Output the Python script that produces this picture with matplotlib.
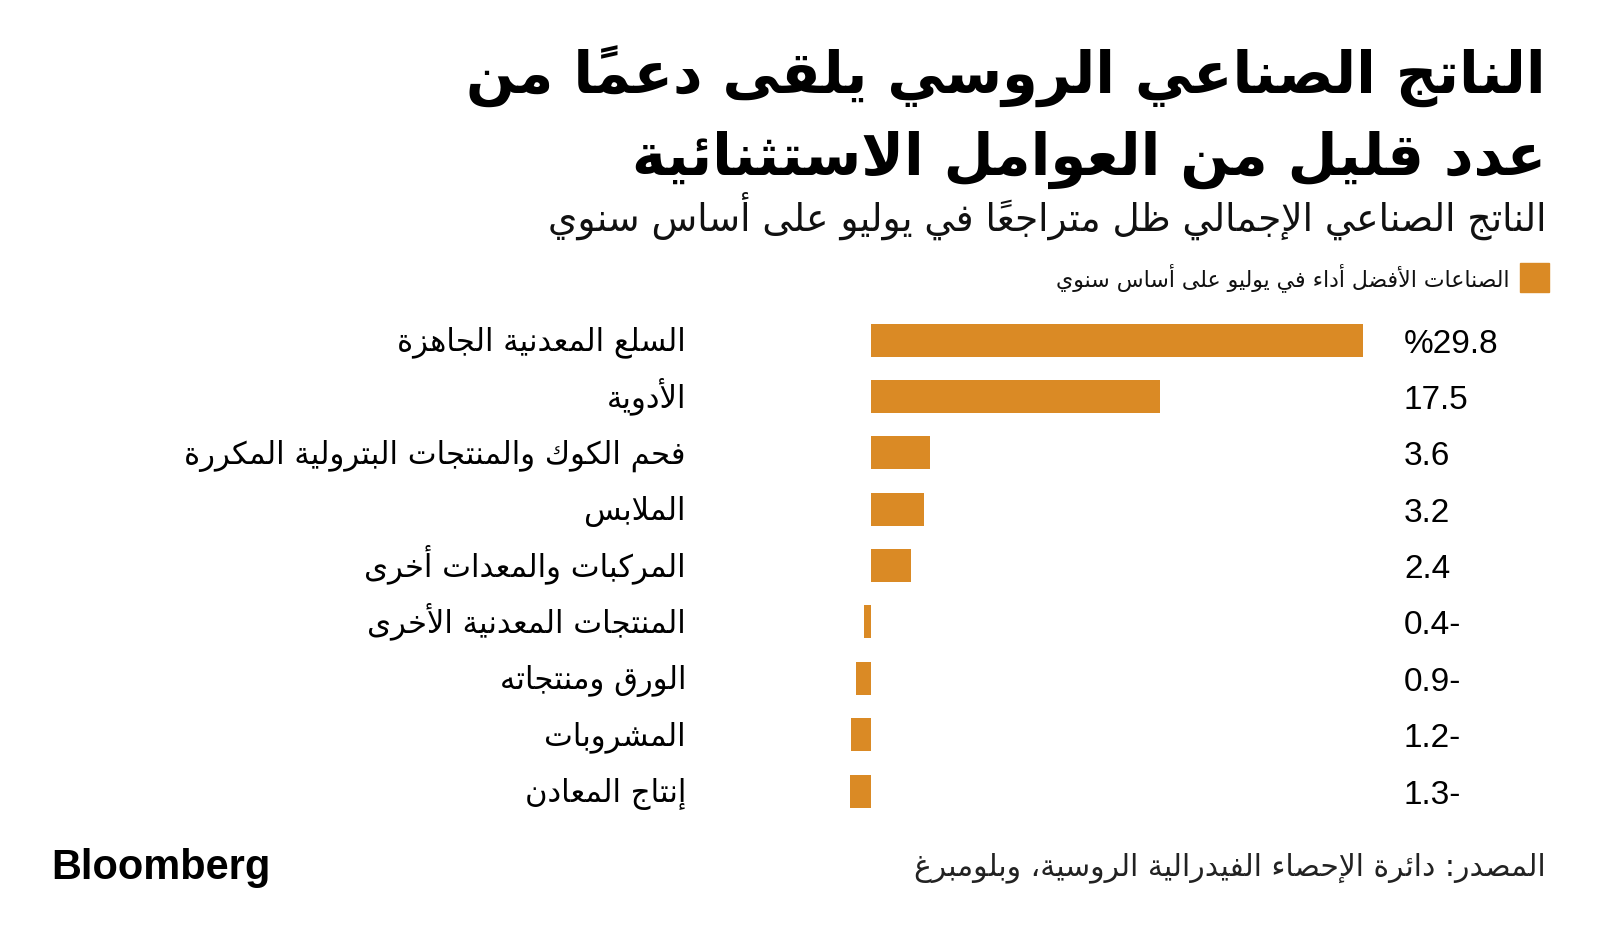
import matplotlib
matplotlib.use("Agg")
import matplotlib.pyplot as plt
from matplotlib.transforms import blended_transform_factory, offset_copy

# ---------------- data ----------------
title_lines = ["الناتج الصناعي الروسي يلقى دعماً من", "عدد قليل من العوامل الاستثنائية"]
subtitle = "الناتج الصناعي الإجمالي ظل متراجعاً في يوليو على أساس سنوي"
legend_label = "الصناعات الأفضل أداء في يوليو على أساس سنوي"
source = "المصدر: دائرة الإحصاء الفيدرالية الروسية، وبلومبرغ"
categories = [
    "السلع المعدنية الجاهزة",
    "الأدوية",
    "فحم الكوك والمنتجات البترولية المكررة",
    "الملابس",
    "المركبات والمعدات أخرى",
    "المنتجات المعدنية الأخرى",
    "الورق ومنتجاته",
    "المشروبات",
    "إنتاج المعادن",
]
values = [29.8, 17.5, 3.6, 3.2, 2.4, -0.4, -0.9, -1.2, -1.3]

BAR = "#DA8A25"

# ---------------- minimal Arabic shaping (presentation forms + RTL order) ----------------
DUAL = {0x0626: 0xFE89, 0x0628: 0xFE8F, 0x062A: 0xFE95, 0x062B: 0xFE99, 0x062C: 0xFE9D,
        0x062D: 0xFEA1, 0x062E: 0xFEA5, 0x0633: 0xFEB1, 0x0634: 0xFEB5, 0x0635: 0xFEB9,
        0x0636: 0xFEBD, 0x0637: 0xFEC1, 0x0638: 0xFEC5, 0x0639: 0xFEC9, 0x063A: 0xFECD,
        0x0641: 0xFED1, 0x0642: 0xFED5, 0x0643: 0xFED9, 0x0644: 0xFEDD, 0x0645: 0xFEE1,
        0x0646: 0xFEE5, 0x0647: 0xFEE9, 0x064A: 0xFEF1}
RIGHT = {0x0622: 0xFE81, 0x0623: 0xFE83, 0x0624: 0xFE85, 0x0625: 0xFE87, 0x0627: 0xFE8D,
         0x0629: 0xFE93, 0x062F: 0xFEA9, 0x0630: 0xFEAB, 0x0631: 0xFEAD, 0x0632: 0xFEAF,
         0x0648: 0xFEED, 0x0649: 0xFEEF}
NONJ = {0x0621: 0xFE80}
LAMALEF = {0x0622: 0xFEF5, 0x0623: 0xFEF7, 0x0625: 0xFEF9, 0x0627: 0xFEFB}


def is_mark(ch):
    return 0x064B <= ord(ch) <= 0x0652


def shape(s):
    cl = []
    for ch in s:
        if is_mark(ch) and cl:
            cl[-1][1].append(ch)
        else:
            cl.append([ch, []])
    # lam-alef ligatures
    merged = []
    i = 0
    while i < len(cl):
        c, m = cl[i]
        if ord(c) == 0x0644 and i + 1 < len(cl) and ord(cl[i + 1][0]) in LAMALEF:
            merged.append(["LA" + cl[i + 1][0], m + cl[i + 1][1]])
            i += 2
        else:
            merged.append([c, m])
            i += 1

    def jnext(c):
        return len(c) == 1 and ord(c) in DUAL

    def jprev(c):
        return c.startswith("LA") or (len(c) == 1 and (ord(c) in DUAL or ord(c) in RIGHT))

    out = []
    n = len(merged)
    for i, (c, m) in enumerate(merged):
        prev = merged[i - 1][0] if i > 0 else None
        nxt = merged[i + 1][0] if i + 1 < n else None
        jp = prev is not None and jnext(prev) and jprev(c)
        jn = nxt is not None and jnext(c) and jprev(nxt)
        if c.startswith("LA"):
            g = chr(LAMALEF[ord(c[2])] + (1 if jp else 0))
        elif ord(c) in DUAL:
            off = 3 if (jp and jn) else 1 if jp else 2 if jn else 0
            g = chr(DUAL[ord(c)] + off)
        elif ord(c) in RIGHT:
            g = chr(RIGHT[ord(c)] + (1 if jp else 0))
        elif ord(c) in NONJ:
            g = chr(NONJ[ord(c)])
        else:
            g = c
        out.append(g + "".join(m))
    return "".join(reversed(out))


# ---------------- figure ----------------
W, H = 1600, 943
fig = plt.figure(figsize=(W / 100, H / 100), dpi=100)
fig.patch.set_facecolor("white")


def X(x):
    return x / W


def Y(y):
    return 1 - y / H


AR = ["DejaVu Sans"]
renderer = fig.canvas.get_renderer()


def fit(t, target):
    w = t.get_window_extent(renderer).width
    t.set_fontsize(t.get_fontsize() * target / w)


# title
t1 = fig.text(X(1546), Y(94), shape(title_lines[0]), ha="right", va="baseline",
              fontsize=40, fontweight="bold", family=AR, color="black")
fit(t1, 1546 - 467)
t2 = fig.text(X(1546), Y(175), shape(title_lines[1]), ha="right", va="baseline",
              fontsize=40, fontweight="bold", family=AR, color="black")
t2.set_fontsize(t1.get_fontsize())
st = fig.text(X(1546), Y(231), shape(subtitle), ha="right", va="baseline",
              fontsize=24, family=AR, color="#111111")
fit(st, 1546 - 541)

# legend
fig.patches.append(plt.Rectangle((X(1520), Y(292)), X(1549) - X(1520), Y(263) - Y(292),
                                 transform=fig.transFigure, color=BAR, figure=fig))
lg = fig.text(X(1510), Y(286), shape(legend_label), ha="right", va="baseline",
              fontsize=16, family=AR, color="#111111")
fit(lg, 1510 - 1057)

# bars
k = (1363 - 871) / values[0]
ax_l, ax_r = 800, 1400
step = (791 - 340) / (len(values) - 1)
ax_t, ax_b = 340 - step / 2, 791 + step / 2
ax = fig.add_axes([X(ax_l), Y(ax_b), (ax_r - ax_l) / W, (ax_b - ax_t) / H])
ax.set_xlim((ax_l - 871) / k, (ax_r - 871) / k)
ax.set_ylim(len(values) - 0.5, -0.5)
ax.axis("off")
ypos = list(range(len(values)))
ax.barh(ypos, values, height=33 / step, color=BAR)

tr = blended_transform_factory(fig.transFigure, ax.transData)
tr_cat = offset_copy(tr, fig=fig, x=0, y=-10.5, units="dots")
tr_val = offset_copy(tr, fig=fig, x=0, y=-12.5, units="dots")

cat_texts = []
for yi, c in zip(ypos, categories):
    t = ax.text(X(686), yi, shape(c), ha="right", va="baseline", fontsize=20,
                family=AR, color="black", transform=tr_cat)
    cat_texts.append(t)
longest = max(cat_texts, key=lambda t: t.get_window_extent(renderer).width)
fs0 = longest.get_fontsize()
fit(longest, 686 - 185)
for t in cat_texts:
    t.set_fontsize(longest.get_fontsize())


def fmt(i, v):
    if v < 0:
        return f"{-v:.1f}-"
    return f"%{v:.1f}" if i == 0 else f"{v:.1f}"


for i, (yi, v) in enumerate(zip(ypos, values)):
    ax.text(X(1404), yi, fmt(i, v), ha="left", va="baseline", fontsize=24,
            family=["Liberation Sans Narrow", "Liberation Sans", "DejaVu Sans"],
            color="black", transform=tr_val)

# footer
bl = fig.text(X(51), Y(879), "Bloomberg", ha="left", va="baseline", fontsize=28,
              fontweight="bold", family=["Liberation Sans", "DejaVu Sans"], color="black")
fit(bl, 270 - 51)
src = fig.text(X(1546), Y(875), shape(source), ha="right", va="baseline",
               fontsize=18, family=AR, color="#222222")
fit(src, 1546 - 915)

fig.savefig("out.png", dpi=100, facecolor="white")
